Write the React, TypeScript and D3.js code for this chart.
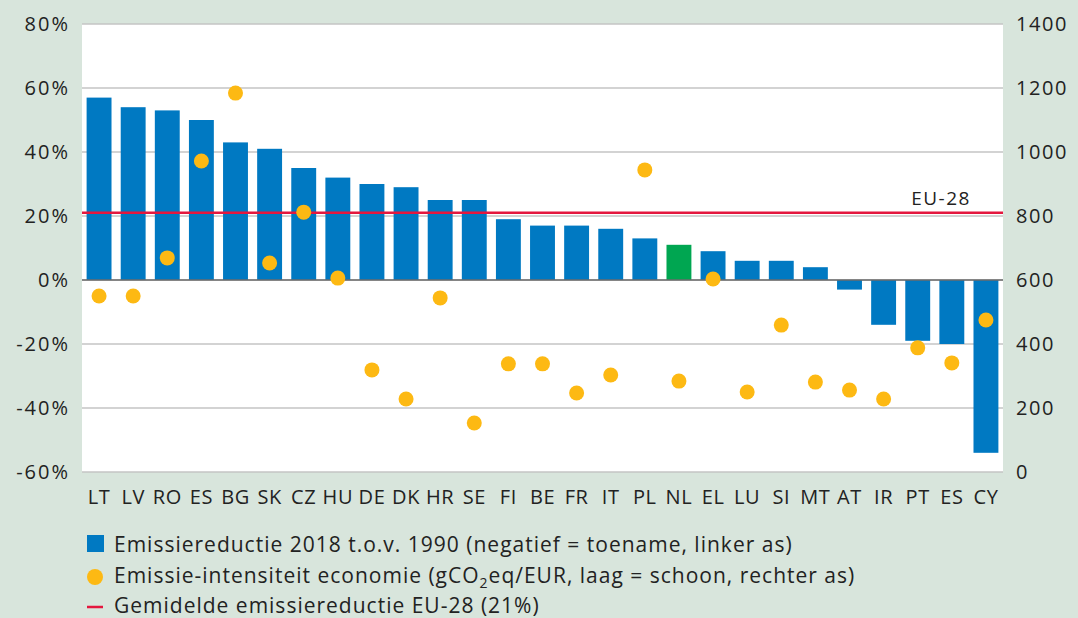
import React from 'react';
import * as d3 from 'd3';

const countries = ['LT', 'LV', 'RO', 'ES', 'BG', 'SK', 'CZ', 'HU', 'DE', 'DK', 'HR', 'SE', 'FI', 'BE', 'FR', 'IT', 'PL', 'NL', 'EL', 'LU', 'SI', 'MT', 'AT', 'IR', 'PT', 'ES', 'CY'];
const reduction = [57, 54, 53, 50, 43, 41, 35, 32, 30, 29, 25, 25, 19, 17, 17, 16, 13, 11, 9, 6, 6, 4, -3, -14, -19, -20, -54];
const intensity = [550, 550, 669, 972, 1184, 653, 812, 606, 319, 228, 544, 153, 338, 338, 247, 303, 944, 284, 603, 250, 459, 281, 256, 228, 388, 341, 475];
const leftTicks = [-60, -40, -20, 0, 20, 40, 60, 80];
const rightTicks = [0, 200, 400, 600, 800, 1000, 1200, 1400];
const euAverage = 21;
const highlightIndex = 17; // NL

const W = 1078;
const H = 618;
const left = 82;
const right = 1003;
const top = 24;
const bottom = 472;
const font = '"Open Sans", "Noto Sans", sans-serif';

const blue = '#0079c2';
const green = '#00a651';
const yellow = '#fdb913';
const red = '#e4173e';
const bg = '#d8e5dc';
const ink = '#222';

export default function App() {
  const x = d3.scaleBand<number>().domain(d3.range(countries.length)).range([left, right]).paddingInner(0.27).paddingOuter(0.135);
  const yL = d3.scaleLinear().domain([-60, 80]).range([bottom, top]);
  const yR = d3.scaleLinear().domain([0, 1400]).range([bottom, top]);
  const center = (i: number) => (x(i) as number) + x.bandwidth() / 2;

  return (
    <svg width={W} height={H} style={{ position: 'absolute', left: 0, top: 0, fontFamily: font }}>
      <rect width={W} height={H} fill={bg} />
      <rect x={left} y={top} width={right - left} height={bottom - top} fill="#fff" />
      {leftTicks.map(t => (
        <line key={'g' + t} x1={left} x2={right} y1={yL(t)} y2={yL(t)} stroke="#c4c4c4" strokeWidth={1.5} />
      ))}
      {reduction.map((v, i) => (
        <rect
          key={'b' + i}
          x={x(i)}
          y={yL(Math.max(0, v))}
          width={x.bandwidth()}
          height={Math.abs(yL(v) - yL(0))}
          fill={i === highlightIndex ? green : blue}
        />
      ))}
      <line x1={left} x2={right} y1={yL(0)} y2={yL(0)} stroke="#6b6b6b" strokeWidth={1.5} />
      <line x1={left} x2={right} y1={yL(euAverage)} y2={yL(euAverage)} stroke={red} strokeWidth={2.5} />
      <text x={941} y={yL(euAverage) - 8} fontSize={19} letterSpacing={1.5} textAnchor="middle" fill={ink}>EU-28</text>
      {intensity.map((v, i) => (
        <circle key={'c' + i} cx={center(i)} cy={yR(v)} r={7.5} fill={yellow} />
      ))}
      {leftTicks.map(t => (
        <text key={'l' + t} x={70} y={yL(t) + 7} fontSize={20} letterSpacing={2} textAnchor="end" fill={ink}>{t}%</text>
      ))}
      {rightTicks.map(t => (
        <text key={'r' + t} x={1016} y={yR(t) + 7} fontSize={20} letterSpacing={1.6} textAnchor="start" fill={ink}>{t}</text>
      ))}
      {countries.map((c, i) => (
        <text key={'x' + i} x={center(i)} y={504} fontSize={20} letterSpacing={0.6} textAnchor="middle" fill={ink}>{c}</text>
      ))}
      <rect x={87} y={535} width={17} height={17} fill={blue} />
      <circle cx={95} cy={577} r={8} fill={yellow} />
      <line x1={87} x2={103} y1={607} y2={607} stroke={red} strokeWidth={2.5} />
      <g fontSize={21} letterSpacing={1} fill={ink}>
        <text x={114} y={552}>Emissiereductie 2018 t.o.v. 1990 (negatief = toename, linker as)</text>
        <text x={114} y={583}>
          Emissie-intensiteit economie (gCO<tspan fontSize={14} dy={5}>2</tspan>
          <tspan dy={-5}>eq/EUR, laag = schoon, rechter as)</tspan>
        </text>
        <text x={114} y={613}>Gemidelde emissiereductie EU-28 (21%)</text>
      </g>
    </svg>
  );
}
